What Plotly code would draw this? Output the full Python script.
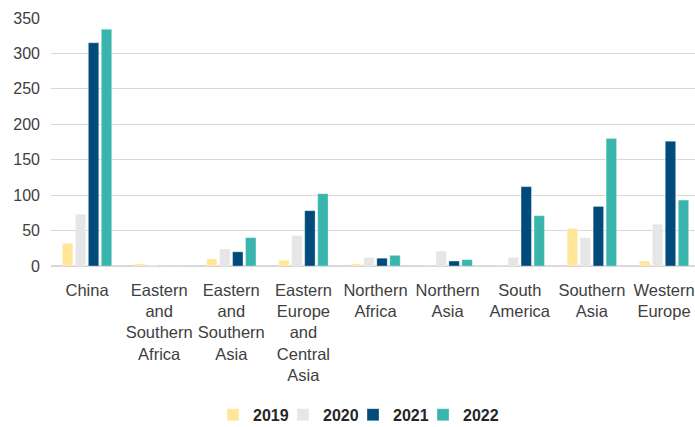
import plotly.graph_objects as go

categories = ["China", "Eastern<br>and<br>Southern<br>Africa", "Eastern<br>and<br>Southern<br>Asia",
              "Eastern<br>Europe<br>and<br>Central<br>Asia", "Northern<br>Africa", "Northern<br>Asia",
              "South<br>America", "Southern<br>Asia", "Western<br>Europe"]
v2019 = [32, 3, 10, 8, 3, 0, 0, 53, 7]
v2020 = [73, 1, 24, 43, 12, 21, 12, 40, 59]
v2021 = [315, 0, 20, 78, 11, 7, 112, 84, 176]
v2022 = [334, 0, 40, 102, 15, 9, 71, 180, 93]

series = [("2019", v2019, "#FFE699"), ("2020", v2020, "#E7E6E6"),
          ("2021", v2021, "#004B7B"), ("2022", v2022, "#39B5AE")]

fig = go.Figure()
for name, vals, col in series:
    fig.add_trace(go.Bar(x=categories, y=vals, name=name, marker_color=col,
                         marker_line=dict(color="rgba(255,255,255,0.6)", width=0.5)))
# spacer legend entry so the last legend label is not clipped
fig.add_trace(go.Scatter(x=[None], y=[None], mode="none", name="", showlegend=True,
                         hoverinfo="skip"))

font = "Liberation Sans, Arial"
fig.update_layout(
    width=695, height=427,
    margin=dict(l=51, r=0, t=18, b=161, autoexpand=False),
    paper_bgcolor="white", plot_bgcolor="white",
    barmode="group", bargap=0.28, bargroupgap=0.2,
    font=dict(family=font, size=16, color="#404040"),
    showlegend=True,
    legend=dict(orientation="h", x=0.2516, xanchor="left", y=-0.6, yanchor="middle",
                font=dict(size=16, color="#262626", family=font, weight="bold"),
                itemwidth=30, entrywidth=25, entrywidthmode="pixels"),
)
fig.update_yaxes(range=[0, 350], dtick=50, showgrid=True, gridcolor="#D9D9D9", gridwidth=1,
                 zeroline=True, zerolinecolor="#D9D9D9", tickfont=dict(size=16), ticks="",
                 showline=False, automargin=False, ticklabelstandoff=10)
fig.update_xaxes(tickfont=dict(size=16.5), showline=False, ticks="", tickangle=0,
                 automargin=False, range=[-0.5, 8.43], ticklabelstandoff=12)

fig.write_html("out.html", config={"displayModeBar": False},
               post_script="document.body.style.margin='0';document.body.style.overflow='hidden';")
